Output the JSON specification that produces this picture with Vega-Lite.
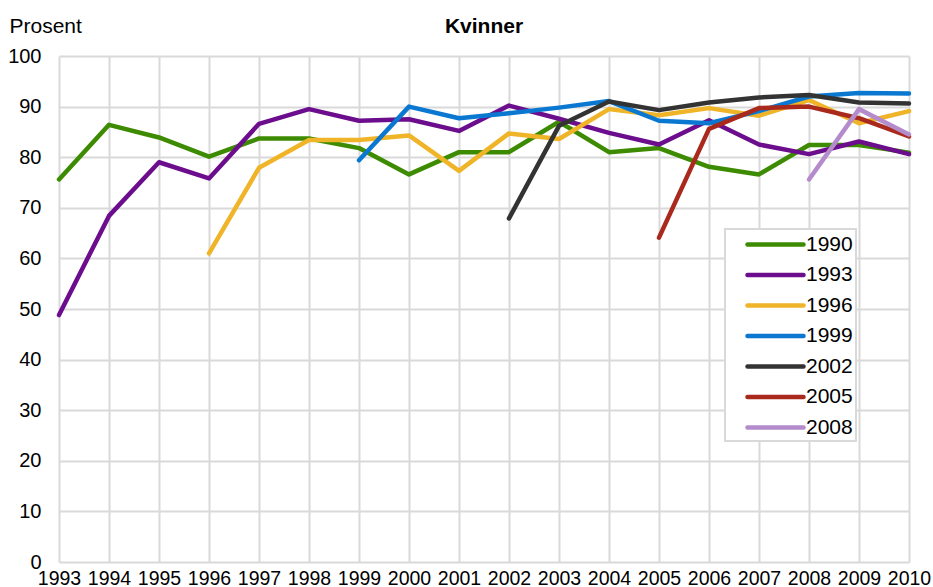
{
  "$schema": "https://vega.github.io/schema/vega-lite/v6.json",
  "width": 850,
  "height": 506,
  "autosize": {"type": "none"},
  "padding": {"left": 59, "top": 56, "right": 24, "bottom": 25},
  "title": {"text": "Kvinner", "anchor": "middle", "fontSize": 21, "fontWeight": "bold", "font": "Liberation Sans", "color": "#000000", "baseline": "bottom", "offset": -43},
  "config": {
    "view": {"stroke": null},
    "font": "Liberation Sans",
    "axis": {"gridColor": "#d9d9d9", "gridWidth": 2, "domain": false, "ticks": false, "labelColor": "#000000", "labelFont": "Liberation Sans"}
  },
  "data": {"values": [
    {"year": 1993, "serie": "1990", "value": 75.6},
    {"year": 1994, "serie": "1990", "value": 86.4},
    {"year": 1995, "serie": "1990", "value": 83.9},
    {"year": 1996, "serie": "1990", "value": 80.1},
    {"year": 1997, "serie": "1990", "value": 83.7},
    {"year": 1998, "serie": "1990", "value": 83.7},
    {"year": 1999, "serie": "1990", "value": 81.8},
    {"year": 2000, "serie": "1990", "value": 76.6},
    {"year": 2001, "serie": "1990", "value": 81.0},
    {"year": 2002, "serie": "1990", "value": 81.0},
    {"year": 2003, "serie": "1990", "value": 87.0},
    {"year": 2004, "serie": "1990", "value": 81.0},
    {"year": 2005, "serie": "1990", "value": 81.8},
    {"year": 2006, "serie": "1990", "value": 78.1},
    {"year": 2007, "serie": "1990", "value": 76.6},
    {"year": 2008, "serie": "1990", "value": 82.4},
    {"year": 2009, "serie": "1990", "value": 82.4},
    {"year": 2010, "serie": "1990", "value": 80.9},
    {"year": 1993, "serie": "1993", "value": 48.8},
    {"year": 1994, "serie": "1993", "value": 68.4},
    {"year": 1995, "serie": "1993", "value": 79.0},
    {"year": 1996, "serie": "1993", "value": 75.8},
    {"year": 1997, "serie": "1993", "value": 86.6},
    {"year": 1998, "serie": "1993", "value": 89.5},
    {"year": 1999, "serie": "1993", "value": 87.2},
    {"year": 2000, "serie": "1993", "value": 87.5},
    {"year": 2001, "serie": "1993", "value": 85.2},
    {"year": 2002, "serie": "1993", "value": 90.2},
    {"year": 2003, "serie": "1993", "value": 87.6},
    {"year": 2004, "serie": "1993", "value": 84.8},
    {"year": 2005, "serie": "1993", "value": 82.5},
    {"year": 2006, "serie": "1993", "value": 87.3},
    {"year": 2007, "serie": "1993", "value": 82.5},
    {"year": 2008, "serie": "1993", "value": 80.6},
    {"year": 2009, "serie": "1993", "value": 83.1},
    {"year": 2010, "serie": "1993", "value": 80.6},
    {"year": 1996, "serie": "1996", "value": 61.0},
    {"year": 1997, "serie": "1996", "value": 77.9},
    {"year": 1998, "serie": "1996", "value": 83.4},
    {"year": 1999, "serie": "1996", "value": 83.4},
    {"year": 2000, "serie": "1996", "value": 84.3},
    {"year": 2001, "serie": "1996", "value": 77.3},
    {"year": 2002, "serie": "1996", "value": 84.7},
    {"year": 2003, "serie": "1996", "value": 83.6},
    {"year": 2004, "serie": "1996", "value": 89.5},
    {"year": 2005, "serie": "1996", "value": 88.3},
    {"year": 2006, "serie": "1996", "value": 89.7},
    {"year": 2007, "serie": "1996", "value": 88.2},
    {"year": 2008, "serie": "1996", "value": 91.3},
    {"year": 2009, "serie": "1996", "value": 86.7},
    {"year": 2010, "serie": "1996", "value": 89.1},
    {"year": 1999, "serie": "1999", "value": 79.4},
    {"year": 2000, "serie": "1999", "value": 90.0},
    {"year": 2001, "serie": "1999", "value": 87.7},
    {"year": 2002, "serie": "1999", "value": 88.7},
    {"year": 2003, "serie": "1999", "value": 89.8},
    {"year": 2004, "serie": "1999", "value": 91.1},
    {"year": 2005, "serie": "1999", "value": 87.2},
    {"year": 2006, "serie": "1999", "value": 86.7},
    {"year": 2007, "serie": "1999", "value": 89.1},
    {"year": 2008, "serie": "1999", "value": 92.0},
    {"year": 2009, "serie": "1999", "value": 92.7},
    {"year": 2010, "serie": "1999", "value": 92.6},
    {"year": 2002, "serie": "2002", "value": 67.9},
    {"year": 2003, "serie": "2002", "value": 86.2},
    {"year": 2004, "serie": "2002", "value": 91.0},
    {"year": 2005, "serie": "2002", "value": 89.3},
    {"year": 2006, "serie": "2002", "value": 90.8},
    {"year": 2007, "serie": "2002", "value": 91.8},
    {"year": 2008, "serie": "2002", "value": 92.3},
    {"year": 2009, "serie": "2002", "value": 90.8},
    {"year": 2010, "serie": "2002", "value": 90.6},
    {"year": 2005, "serie": "2005", "value": 64.1},
    {"year": 2006, "serie": "2005", "value": 85.6},
    {"year": 2007, "serie": "2005", "value": 89.7},
    {"year": 2008, "serie": "2005", "value": 90.0},
    {"year": 2009, "serie": "2005", "value": 87.7},
    {"year": 2010, "serie": "2005", "value": 84.1},
    {"year": 2008, "serie": "2008", "value": 75.6},
    {"year": 2009, "serie": "2008", "value": 89.5},
    {"year": 2010, "serie": "2008", "value": 84.5}
  ]},
  "mark": {"type": "line", "strokeWidth": 4.5, "strokeCap": "round", "strokeJoin": "round"},
  "encoding": {
    "x": {
      "field": "year", "type": "quantitative",
      "scale": {"domain": [1993, 2010], "nice": false, "zero": false},
      "axis": {"values": [1993,1994,1995,1996,1997,1998,1999,2000,2001,2002,2003,2004,2005,2006,2007,2008,2009,2010], "format": "d", "title": null, "labelFontSize": 19.5, "labelPadding": 7, "labelFlush": false, "labelOverlap": false}
    },
    "y": {
      "field": "value", "type": "quantitative",
      "scale": {"domain": [0, 100], "nice": false},
      "axis": {"values": [0,10,20,30,40,50,60,70,80,90,100], "title": "Prosent", "titleAngle": 0, "titleAlign": "left", "titleBaseline": "alphabetic", "titleX": -50, "titleY": -24, "titleFontSize": 21, "titleFontWeight": "normal", "titleColor": "#000000", "titleFont": "Liberation Sans", "labelFontSize": 20, "labelPadding": 18, "labelFlush": false}
    },
    "color": {
      "field": "serie", "type": "nominal",
      "scale": {"domain": ["1990","1993","1996","1999","2002","2005","2008"], "range": ["#3d8b00","#6c0d8e","#f0b428","#0a78d0","#333333","#a92a1d","#b48ccc"]},
      "legend": {
        "title": null, "orient": "none", "legendX": 666, "legendY": 173,
        "padding": 3, "strokeColor": "#d9d9d9", "fillColor": "#ffffff",
        "symbolType": "M-1,0H4.6", "symbolSize": 400, "symbolStrokeWidth": 4.5, "symbolOffset": 17,
        "labelOffset": 36, "labelFontSize": 21, "labelFont": "Liberation Sans", "labelColor": "#000000",
        "rowPadding": 7.5,
        "encode": {"legend": {"update": {"strokeWidth": {"value": 2}}}, "symbols": {"update": {"strokeCap": {"value": "round"}}}}
      }
    }
  }
}
